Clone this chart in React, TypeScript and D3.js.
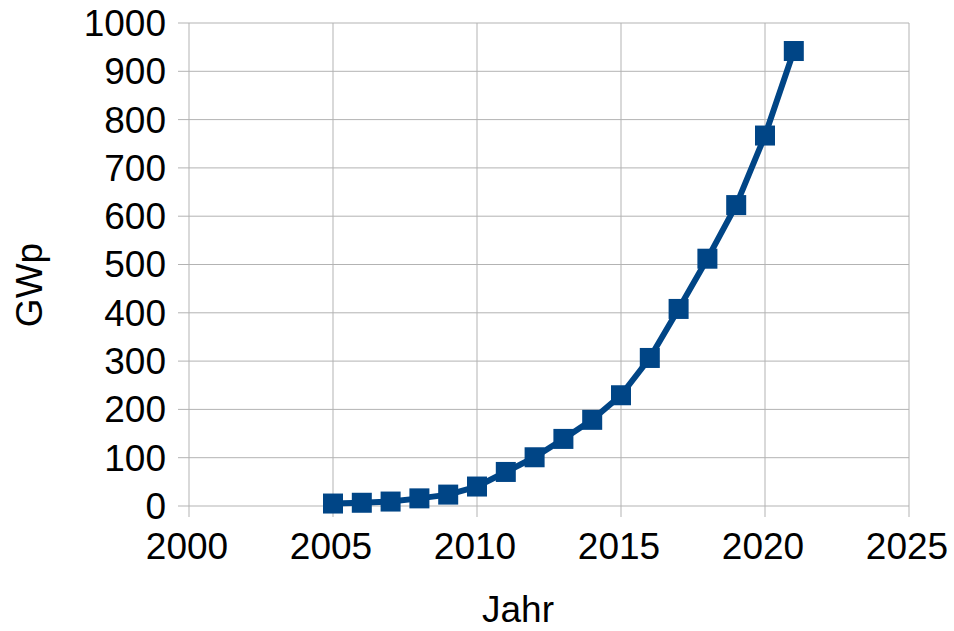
import * as React from 'react';
import * as d3 from 'd3';

// cumulative installed PV capacity
const years = [2005, 2006, 2007, 2008, 2009, 2010, 2011, 2012, 2013, 2014, 2015, 2016, 2017, 2018, 2019, 2020, 2021];
const gwp = [5.1, 6.7, 9.2, 15.8, 23.6, 40.3, 70.5, 100.9, 138.9, 178.4, 229.3, 306.5, 408, 512, 623, 767, 942];
const xTicks = [2000, 2005, 2010, 2015, 2020, 2025];
const yTicks = [0, 100, 200, 300, 400, 500, 600, 700, 800, 900, 1000];

const W = 954, H = 631;
const margin = { left: 189, right: 45, top: 23, bottom: 125 };
const FONT = 'Liberation Sans, Arial, sans-serif';
const FS = 37;

export default function App() {
  const x = d3.scaleLinear().domain([2000, 2025]).range([margin.left, W - margin.right]);
  const y = d3.scaleLinear().domain([0, 1000]).range([H - margin.bottom, margin.top]);
  const line = d3.line<number>()
    .x((_, i) => x(years[i]))
    .y(d => y(d));

  return (
    <svg width={W} height={H} style={{ position: 'absolute', left: 0, top: 0 }}>
      <rect width={W} height={H} fill="#fff" />
      {yTicks.map(t => (
        <g key={'y' + t}>
          <line x1={x(2000) - 11} x2={x(2025)} y1={y(t)} y2={y(t)} stroke="#b3b3b3" strokeWidth={1} />
          <text x={x(2000) - 23} y={y(t)} dy="0.35em" textAnchor="end" fontFamily={FONT} fontSize={FS}>{t}</text>
        </g>
      ))}
      {xTicks.map(t => (
        <g key={'x' + t}>
          <line x1={x(t)} x2={x(t)} y1={y(1000)} y2={y(0) + 11} stroke="#b3b3b3" strokeWidth={1} />
          <text x={x(t) - 2} y={y(0) + 53} textAnchor="middle" fontFamily={FONT} fontSize={FS}>{t}</text>
        </g>
      ))}
      <path d={line(gwp) || ''} fill="none" stroke="#004586" strokeWidth={6} strokeLinejoin="round" />
      {gwp.map((v, i) => (
        <rect key={i} x={x(years[i]) - 10} y={y(v) - 10} width={20} height={20} fill="#004586" />
      ))}
      <text x={518} y={622} textAnchor="middle" fontFamily={FONT} fontSize={FS}>Jahr</text>
      <text transform={`translate(42, 285) rotate(-90)`} textAnchor="middle" fontFamily={FONT} fontSize={FS}>GWp</text>
    </svg>
  );
}
